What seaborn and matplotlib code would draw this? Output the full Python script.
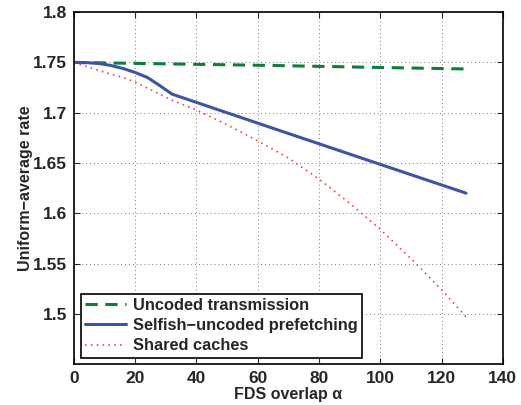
import numpy as np
import pandas as pd
import matplotlib
matplotlib.use("Agg")
import matplotlib.pyplot as plt
import seaborn as sns

# data
alpha_uncoded = [0, 32, 64, 96, 128]
rate_uncoded = [1.750, 1.7485, 1.747, 1.7452, 1.7435]

alpha_selfish = [0, 4, 8, 12, 16, 20, 24, 28, 32, 64, 96, 128]
rate_selfish = [1.750, 1.7498, 1.749, 1.747, 1.744, 1.740, 1.735, 1.727, 1.7185,
                1.6855, 1.6527, 1.620]

alpha_shared = [0, 8, 16, 20, 32, 40, 50, 60, 70, 80, 90, 100, 110, 120, 128]
rate_shared = [1.750, 1.742, 1.735, 1.7304, 1.7125, 1.7026, 1.688, 1.672, 1.655,
               1.634, 1.610, 1.584, 1.555, 1.524, 1.497]

labels = ["Uncoded transmission", "Selfish\u2212uncoded prefetching", "Shared caches"]

sns.set_style("ticks")
plt.rcParams['font.family'] = ['Liberation Sans', 'DejaVu Sans']
plt.rcParams['font.weight'] = 'bold'

fig, ax = plt.subplots(figsize=(5.21, 4.05), dpi=100)
fig.subplots_adjust(left=0.142, right=0.965, top=0.970, bottom=0.101)

sns.lineplot(x=alpha_uncoded, y=rate_uncoded, ax=ax, color="#0a7f3a",
             linestyle=(0, (4, 2.5)), linewidth=2.2, label=labels[0])
sns.lineplot(x=alpha_selfish, y=rate_selfish, ax=ax, color="#3a55a8",
             linewidth=2.2, label=labels[1])
sns.lineplot(x=alpha_shared, y=rate_shared, ax=ax, color="#f04848",
             linestyle=(0, (1, 2.5)), linewidth=1.2, label=labels[2])

ax.set_xlim(0, 140)
ax.set_ylim(1.45, 1.8)
ax.set_xticks(np.arange(0, 141, 20))
ax.set_yticks([1.5, 1.55, 1.6, 1.65, 1.7, 1.75, 1.8])
ax.set_yticklabels(["1.5", "1.55", "1.6", "1.65", "1.7", "1.75", "1.8"])
ax.tick_params(direction="in", top=True, right=True, labelsize=12.5, length=4,
               width=0.8, pad=5)
for t in ax.get_xticklabels() + ax.get_yticklabels():
    t.set_fontweight("bold")
ax.grid(True, linestyle=(0, (1, 3)), color="#7a7a7a", linewidth=0.7)
for s in ax.spines.values():
    s.set_linewidth(1.2)
    s.set_color("black")

ax.set_xlabel("FDS overlap \u03b1", fontsize=11.5, fontweight="bold", labelpad=1)
ax.set_ylabel("Uniform\u2212average rate", fontsize=11.5, fontweight="bold", labelpad=0)

leg = ax.legend(loc="lower left", fontsize=11.8, frameon=True, fancybox=False,
                borderaxespad=0.4, handlelength=2.5, labelspacing=0.32,
                borderpad=0.25, handletextpad=0.45)
leg.get_frame().set_edgecolor("black")
leg.get_frame().set_linewidth(1.2)
leg.get_frame().set_alpha(1)
for t in leg.get_texts():
    t.set_fontweight("bold")

fig.savefig("out.png", dpi=100)
